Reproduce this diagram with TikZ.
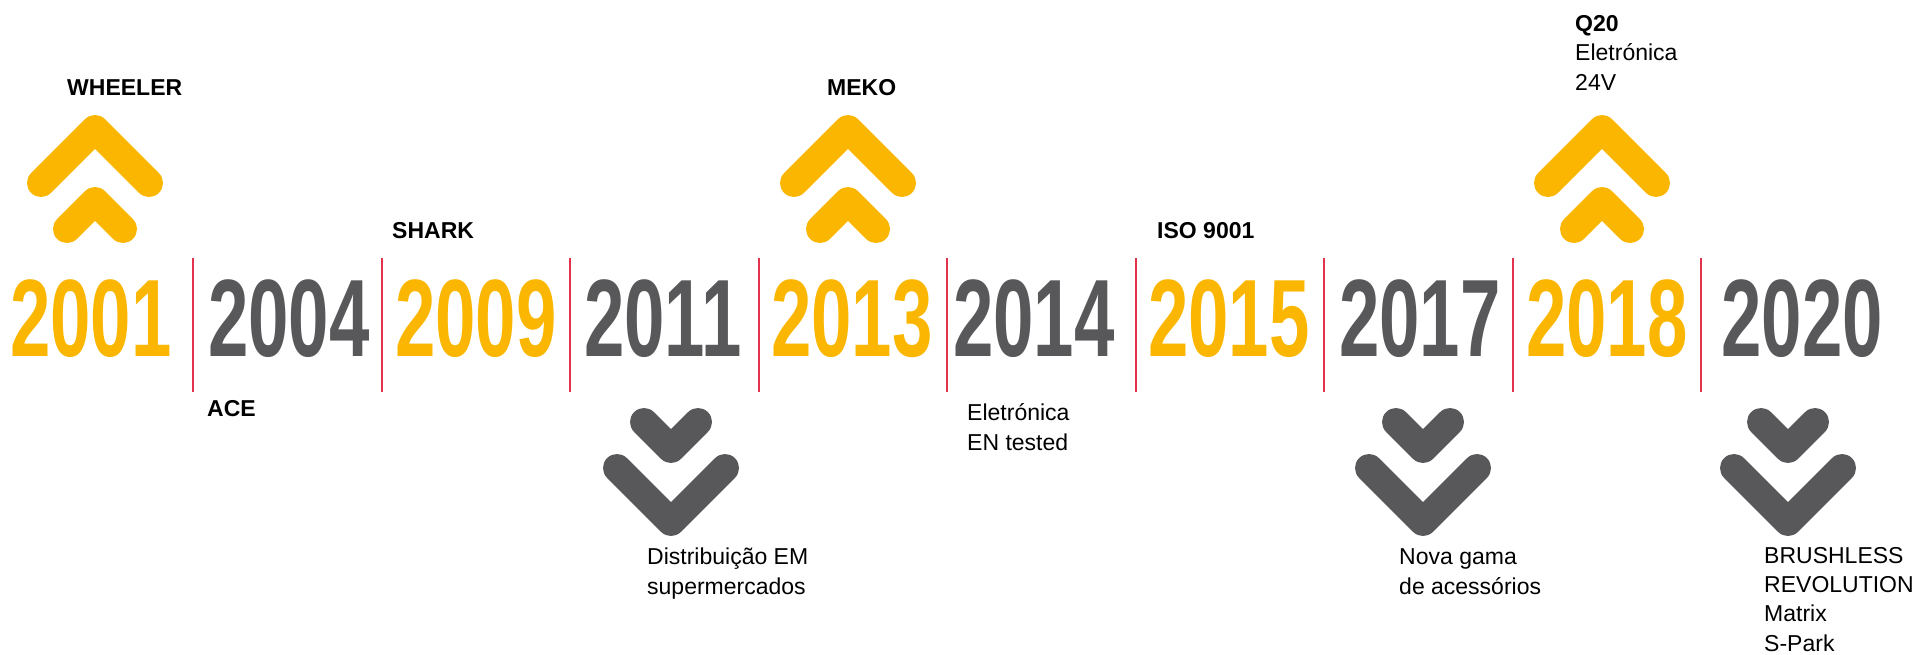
\documentclass[tikz,border=0pt]{standalone}
\usepackage{fontspec}
\setmainfont{Liberation Sans}
\usepackage{graphicx}
\usepackage{tikz}
\definecolor{ouro}{HTML}{FAB600}
\definecolor{grafite}{HTML}{58585A}
\definecolor{traco}{HTML}{E2324C}
\tikzset{ano/.style={anchor=base, inner sep=0pt,
        font=\fontsize{110}{110}\selectfont\bfseries},
    marco/.style={anchor=base west, inner sep=0pt, align=left,
        font=\fontsize{23}{29.3}\selectfont},
    divisor/.style={draw=traco, line width=2pt},
    seta/.style={line width=28pt, line cap=round, line join=round}}
\newcommand{\yr}[1]{\scalebox{0.66}[1]{#1}}
% up / down double chevrons, centred on x = #1
\newcommand{\subir}[1]{%
    \draw[seta,ouro] (#1-54,183) -- (#1,129) -- (#1+54,183);
    \draw[seta,ouro] (#1-28,229) -- (#1,201) -- (#1+28,229);}
\newcommand{\descer}[1]{%
    \draw[seta,grafite] (#1-27,422) -- (#1,449) -- (#1+27,422);
    \draw[seta,grafite] (#1-54,468) -- (#1,522) -- (#1+54,468);}

\begin{document}
\begin{tikzpicture}[x=1pt,y=-1pt]
\useasboundingbox (0,0) rectangle (1916,654);
\foreach \ano/\px/\cor in {2001/91/ouro, 2004/289/grafite, 2009/476/ouro,
    2011/663/grafite, 2013/852/ouro, 2014/1034/grafite, 2015/1229/ouro,
    2017/1420/grafite, 2018/1607/ouro, 2020/1802/grafite}
    \node[ano,text=\cor] (y\ano) at (\px,356) {\yr{\ano}};
\foreach \k in {0,...,8}
    \draw[divisor] (193+188.5*\k,258) -- ++(0,134);

\subir{95}
\subir{848}
\subir{1602}
\descer{671}
\descer{1423}
\descer{1788}

% multi-line labels sit on the baseline of their last line
\node[marco] (wheeler) at (67,95) {\bfseries WHEELER};
\node[marco] (ace) at (207,416) {\bfseries ACE};
\node[marco] (shark) at (392,238) {\bfseries SHARK};
\node[marco] (distrib) at (647,594) {Distribuição EM\\supermercados};
\node[marco] (meko) at (827,95) {\bfseries MEKO};
\node[marco] (eletro) at (967,450) {Eletrónica\\EN tested};
\node[marco] (iso) at (1157,238) {\bfseries ISO 9001};
\node[marco] (acess) at (1399,594) {Nova gama\\de acessórios};
\node[marco] (q20) at (1575,90) {{\bfseries Q20}\\Eletrónica\\24V};
\node[marco] (brush) at (1764,651) {BRUSHLESS\\REVOLUTION\\Matrix\\S-Park};
\end{tikzpicture}
\end{document}
